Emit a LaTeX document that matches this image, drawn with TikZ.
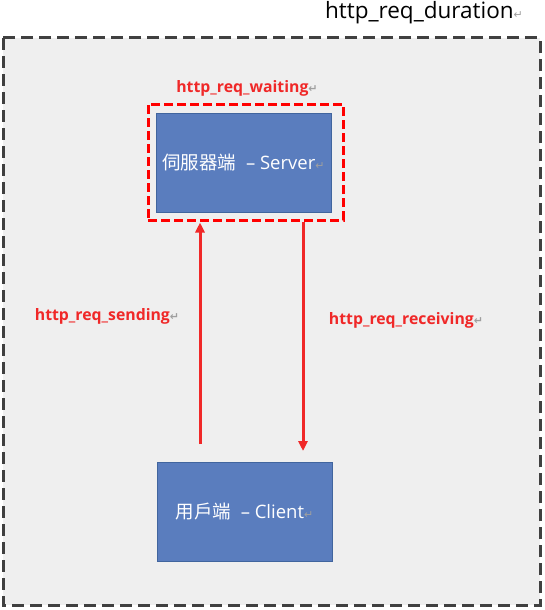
\documentclass[tikz,border=0pt]{standalone}
\usepackage{fontspec}
\setmainfont{Open Sans}
\newfontfamily\cjk{Noto Sans CJK TC}
\newfontfamily\symfont{DejaVu Sans}
\usepackage{xcolor}
\usetikzlibrary{arrows.meta,positioning}
\definecolor{bggray}{HTML}{EFEFEF}
\definecolor{framegray}{HTML}{404040}
\definecolor{boxblue}{HTML}{5A7DBE}
\definecolor{boxedge}{HTML}{41659E}
\definecolor{reqred}{HTML}{F02828}
\newcommand{\pmark}{{\symfont\fontsize{11}{12}\selectfont\color{gray!75}\char"21B5}}
\tikzset{
  frame/.style    ={draw=framegray,line width=3pt,dash pattern=on 12pt off 6pt,fill=bggray},
  hostbox/.style  ={rectangle,draw=boxedge,line width=1pt,fill=boxblue,minimum width=175pt,minimum height=99pt,
                    inner sep=0pt,text=white,font=\fontsize{18.5}{20}\selectfont},
  waitbox/.style  ={rectangle,draw=red,line width=3pt,dash pattern=on 9pt off 4pt,minimum width=195pt,minimum height=116pt},
  reqlabel/.style ={text=reqred,inner sep=0pt,font=\bfseries\fontsize{15.8}{17}\selectfont},
  reqarrow/.style ={draw=reqred,line width=3pt,-{Triangle[length=10pt,width=9pt]}},
}
\begin{document}
\begin{tikzpicture}[x=1pt,y=-1pt]
  \useasboundingbox (0,0) rectangle (544,610);
  \draw[frame] (3,38) rectangle (540,605);
  \node[inner sep=0pt,font=\fontsize{22.5}{24}\selectfont] (dur) at (424,13) {http\_req\_duration\pmark};
  % server side
  \node[hostbox] (server) at (243.5,162.5) {{\cjk 伺服器端} \ – Server\pmark};
  \node[waitbox] (wait) at (245.5,162) {};
  \node[reqlabel] (waitlbl) at (247,88) {http\_req\_waiting\pmark};
  % client side
  \node[hostbox] (client) at (244.5,512) {{\cjk 用戶端} \ – Client\pmark};
  % requests
  \draw[reqarrow,shorten <=18pt,shorten >=1pt] (client.north -| 200,0) -- (wait.south -| 200,0);
  \draw[reqarrow,shorten >=11pt] (wait.south -| 303,0) -- (client.north -| 303,0);
  \node[reqlabel] (sendlbl) at (107,316) {http\_req\_sending\pmark};
  \node[reqlabel] (recvlbl) at (406,320) {http\_req\_receiving\pmark};
\end{tikzpicture}
\end{document}
